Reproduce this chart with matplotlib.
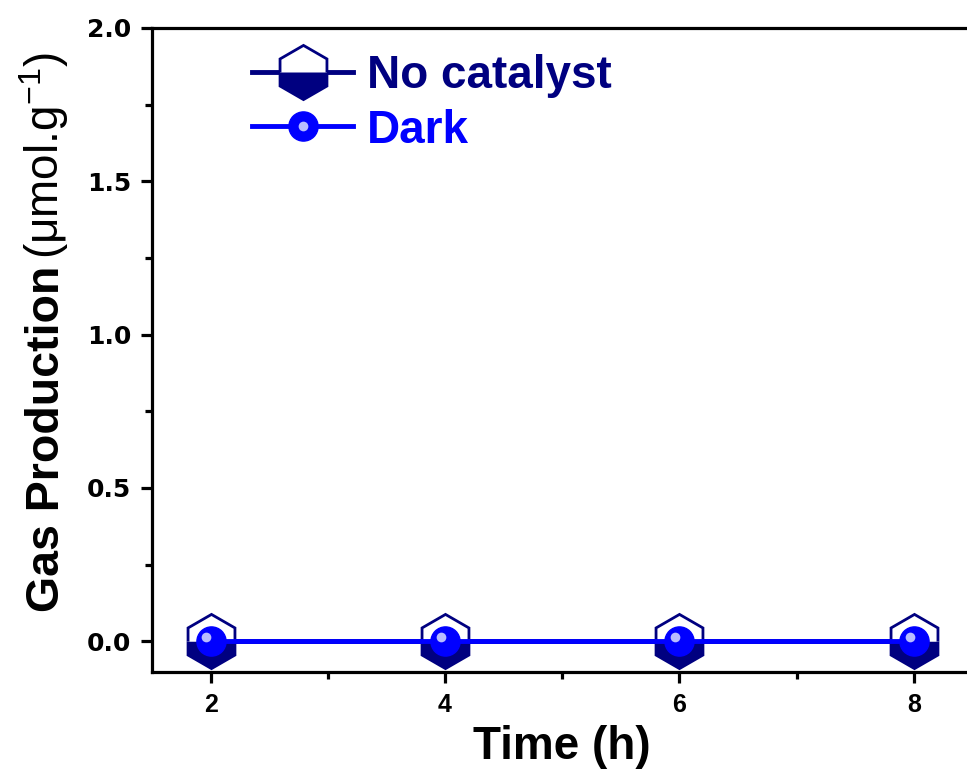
import matplotlib.pyplot as plt
from matplotlib.transforms import ScaledTranslation
from matplotlib.legend_handler import HandlerTuple

time_h = [2, 4, 6, 8]
no_catalyst = [0.0, 0.0, 0.0, 0.0]
dark = [0.0, 0.0, 0.0, 0.0]

navy = '#000080'
blue = '#0000ff'

plt.rcParams['font.family'] = ['Liberation Sans', 'DejaVu Sans']

fig = plt.figure(figsize=(9.67, 7.71), dpi=100)
ax = fig.add_axes([0.1572, 0.1284, 0.8485, 0.8353])

l1, = ax.plot(time_h, no_catalyst, color=navy, lw=3.5, marker='h', ms=39,
              fillstyle='bottom', markerfacecolor=navy, markerfacecoloralt='white',
              markeredgecolor=navy, mew=2, label='No catalyst', zorder=2)
l2, = ax.plot(time_h, dark, color=blue, lw=3.5, marker='o', ms=21,
              markerfacecolor=blue, markeredgecolor=blue, label='Dark', zorder=3)
shift = ScaledTranslation(-3 / 72, 3 / 72, fig.dpi_scale_trans)
hl, = ax.plot(time_h, dark, ls='none', marker='o', ms=7, markerfacecolor='#b8bcff',
              markeredgecolor='none', transform=ax.transData + shift, zorder=4)

ax.set_xlim(1.5, 8.5)
ax.set_ylim(-0.1, 2.0)
ax.set_xticks([2, 4, 6, 8])
ax.set_xticks([3, 5, 7], minor=True)
ax.set_yticks([0.0, 0.5, 1.0, 1.5, 2.0])
ax.set_yticks([0.25, 0.75, 1.25, 1.75], minor=True)
ax.set_yticklabels(['0.0', '0.5', '1.0', '1.5', '2.0'], fontsize=18,
                   fontweight='bold', family='DejaVu Sans')
ax.set_xticklabels(['2', '4', '6', '8'], fontsize=18, fontweight='bold')

for s in ax.spines.values():
    s.set_linewidth(2.3)
ax.tick_params(which='major', direction='out', length=8, width=2.3, pad=7)
ax.tick_params(which='minor', direction='out', length=5, width=2.3)

ax.set_xlabel('Time (h)', fontsize=33, fontweight='bold', labelpad=6)

# y label: bold part then regular unit part, sharing one baseline
ylab = fig.text(0.061, 1 - 612 / 771, 'Gas Production', rotation=90,
                rotation_mode='anchor', ha='left', va='baseline',
                fontsize=33.5, fontweight='bold')
fig.canvas.draw()
bb = ylab.get_window_extent().transformed(fig.transFigure.inverted())
fig.text(0.061, bb.y1 + 0.008, r'(μmol.g$^{\mathregular{-1}}$)', rotation=90,
         rotation_mode='anchor', ha='left', va='baseline', fontsize=33)

leg = ax.legend([l1, (l2, hl)], ['No catalyst', 'Dark'], loc='upper left',
                bbox_to_anchor=(0.072, 1.023), frameon=False,
                handlelength=2.2, handletextpad=0.3, labelspacing=0.22,
                handler_map={tuple: HandlerTuple(ndivide=1, pad=0)},
                prop={'weight': 'bold', 'size': 33})
for t, c in zip(leg.get_texts(), [navy, blue]):
    t.set_color(c)

plt.savefig('out.png', dpi=100)
